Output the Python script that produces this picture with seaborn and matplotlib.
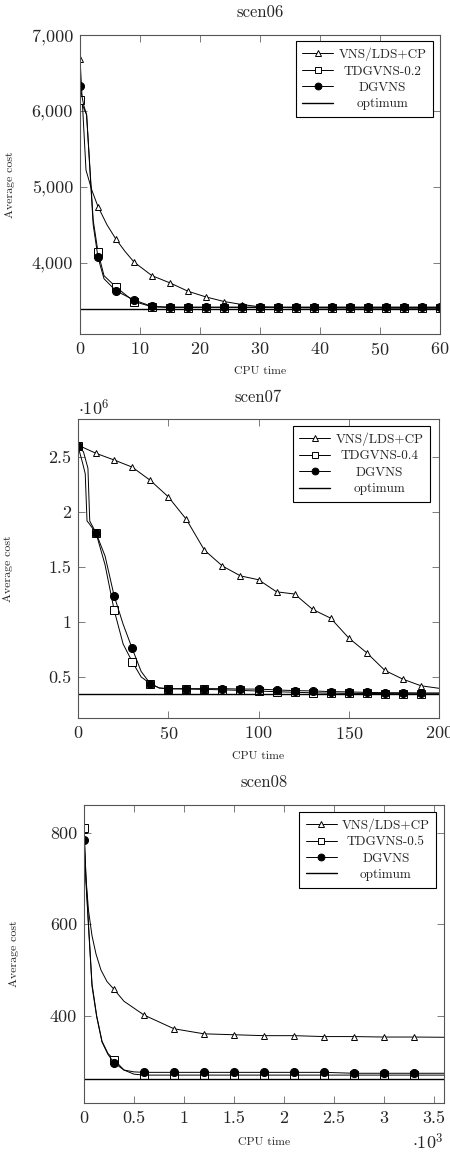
import matplotlib
matplotlib.use("Agg")
import matplotlib.pyplot as plt
import numpy as np
import seaborn as sns
from matplotlib.ticker import FuncFormatter, MultipleLocator

# ---- scen06 (CPU time in s, cost) ----
s06_vns_t = [0, 1, 2, 3, 4.5, 6, 7.5, 9, 12, 15, 18, 21, 24, 27, 30, 33, 36, 39, 42, 45, 48, 51, 54, 57, 60]
s06_vns = [6690, 5220, 4950, 4740, 4500, 4310, 4150, 4010, 3830, 3735, 3625, 3550, 3490, 3450, 3420,
           3412, 3408, 3406, 3405, 3404, 3403, 3402, 3402, 3401, 3401]
s06_td_t = [0, 0.5, 1.1, 2.2, 3, 4, 6, 9, 12, 15, 18, 21, 24, 27, 30, 33, 36, 39, 42, 45, 48, 51, 54, 57, 60]
s06_td = [6150, 6060, 5950, 4560, 4140, 3830, 3680, 3490, 3420, 3410, 3410, 3410, 3410, 3410, 3410,
          3410, 3410, 3410, 3410, 3410, 3410, 3410, 3410, 3410, 3410]
s06_dg_t = [0, 0.6, 1.1, 2.2, 3, 4, 6, 9, 12, 15, 18, 21, 24, 27, 30, 33, 36, 39, 42, 45, 48, 51, 54, 57, 60]
s06_dg = [6330, 6080, 5950, 4500, 4070, 3790, 3630, 3510, 3425, 3417, 3417, 3417, 3417, 3417, 3417,
          3417, 3417, 3417, 3417, 3417, 3417, 3417, 3417, 3417, 3417]
s06_opt = 3395

# ---- scen07 (CPU time in s, cost in 1e6) ----
s07_vns_t = [0, 10, 20, 30, 40, 50, 60, 70, 80, 90, 100, 110, 120, 130, 140, 150, 160, 170, 180, 190, 200]
s07_vns = [2.61, 2.535, 2.475, 2.41, 2.29, 2.14, 1.935, 1.655, 1.51, 1.42, 1.385, 1.275, 1.255, 1.115,
           1.035, 0.855, 0.72, 0.56, 0.48, 0.42, 0.397]
s07_td_t = [0, 2.5, 4, 5, 6, 10, 15, 20, 25, 30, 35, 40, 45, 50, 60, 70, 80, 90, 100, 110, 120, 130,
            140, 150, 160, 170, 180, 190, 200]
s07_td = [2.60, 2.45, 2.35, 1.92, 1.90, 1.81, 1.52, 1.11, 0.80, 0.64, 0.50, 0.44, 0.40, 0.392, 0.39,
          0.387, 0.383, 0.378, 0.372, 0.366, 0.361, 0.356, 0.353, 0.351, 0.35, 0.349, 0.348, 0.347, 0.347]
s07_dg_t = [0, 3, 5.5, 6.5, 10, 15, 20, 25, 30, 35, 40, 45, 50, 60, 70, 80, 90, 100, 110, 120, 130,
            140, 150, 160, 170, 180, 190, 200]
s07_dg = [2.60, 2.55, 2.40, 1.92, 1.81, 1.60, 1.24, 0.98, 0.76, 0.55, 0.44, 0.40, 0.394, 0.394, 0.394,
          0.394, 0.39, 0.39, 0.382, 0.376, 0.373, 0.367, 0.364, 0.36, 0.357, 0.357, 0.355, 0.355]
s07_opt = 0.345

# ---- scen08 (CPU time in 1e3 s, cost) ----
s08_vns_t = [0, 0.02, 0.045, 0.08, 0.12, 0.17, 0.23, 0.3, 0.4, 0.6, 0.9, 1.2, 1.5, 1.8, 2.1, 2.4, 2.7, 3.0,
             3.3, 3.6]
s08_vns = [806, 700, 630, 575, 535, 500, 475, 458, 432, 402, 372, 361, 359, 357, 357, 355, 355, 354, 354,
           353.5]
s08_td_t = [0, 0.02, 0.045, 0.08, 0.127, 0.18, 0.24, 0.3, 0.4, 0.5, 0.6, 0.9, 1.2, 1.5, 1.8, 2.1, 2.4,
            2.7, 3.0, 3.3, 3.6]
s08_td = [810, 700, 600, 470, 400, 345, 318, 305, 282, 273, 271, 271, 271, 271, 271, 271, 271, 271, 271, 271, 271]
s08_dg_t = [0, 0.02, 0.045, 0.08, 0.127, 0.18, 0.24, 0.3, 0.4, 0.5, 0.6, 0.9, 1.2, 1.5, 1.8, 2.1, 2.4,
            2.7, 3.0, 3.3, 3.6]
s08_dg = [784, 690, 595, 465, 398, 343, 316, 298, 282, 278, 277, 277, 277, 277, 277, 277, 277, 275, 275, 275, 275]
s08_opt = 262.5

sns.set_style("ticks")
plt.rcParams["font.family"] = ["cmr10", "DejaVu Serif"]
plt.rcParams["mathtext.fontset"] = "cm"
plt.rcParams["axes.unicode_minus"] = False
plt.rcParams["axes.formatter.use_mathtext"] = True

W, H = 450, 1153
fig = plt.figure(figsize=(W / 100, H / 100), dpi=100)


def axes_px(left, right, top, bottom):
    return fig.add_axes([left / W, (H - bottom) / H, (right - left) / W, (bottom - top) / H])


def mark_idx(t, step, last):
    return [i for i, v in enumerate(t) if abs(v / step - round(v / step)) < 1e-6 and v <= last + 1e-9]


def draw_panel(ax, series, opt, step, last, title, legend_anchor):
    styles = [("^", 5.0, "white"), ("s", 5.3, "white"), ("o", 5.8, "black")]
    for (t, y, label), (mk, ms, fc) in zip(series, styles):
        sns.lineplot(x=t, y=y, ax=ax, sort=False, estimator=None, color="black", lw=0.7,
                     marker=mk, markersize=ms, mfc=fc, mec="black", mew=0.7,
                     markevery=mark_idx(t, step, last), label=label, legend=False)
    ax.axhline(opt, color="black", lw=1.0, label="optimum")
    handles, labels = ax.get_legend_handles_labels()
    leg = ax.legend(handles, labels, loc="upper right", bbox_to_anchor=legend_anchor, borderaxespad=0,
                    fontsize=9.5, frameon=True, fancybox=False, framealpha=1, edgecolor="black",
                    handlelength=2.35, handletextpad=0.4, labelspacing=0.32, borderpad=0.5,
                    markerscale=0.85)
    leg.get_frame().set_linewidth(0.8)
    # centre the legend labels like pgfplots does
    fig.canvas.draw()
    renderer = fig.canvas.get_renderer()
    widths = [t.get_window_extent(renderer).width for t in leg.get_texts()]
    for t, w in zip(leg.get_texts(), widths):
        t.set_position(((max(widths) - w) / 2, 0))
    ax.text(0.5, 1.075, title, transform=ax.transAxes, ha="center", va="center", fontsize=12)
    ax.tick_params(direction="in", top=True, right=True, length=5, width=0.6, color="#666666",
                   labelsize=13, pad=5)
    for s in ax.spines.values():
        s.set_color("#555555")
        s.set_linewidth(0.8)
    ax.set_xlabel("CPU time", fontsize=8.5)
    ax.set_ylabel("Average cost", fontsize=8.5)
    ax.yaxis.set_label_coords(-0.18, 0.5)


ax1 = axes_px(80, 440, 35, 334)
draw_panel(ax1, [(s06_vns_t, s06_vns, "VNS/LDS+CP"), (s06_td_t, s06_td, "TDGVNS-0.2"),
                 (s06_dg_t, s06_dg, "DGVNS")], s06_opt, 3, 60, "scen06", (0.981, 0.98))
ax1.set_xlim(0, 60)
ax1.set_ylim(3062, 7000)
ax1.xaxis.set_major_locator(MultipleLocator(10))
ax1.yaxis.set_major_locator(MultipleLocator(1000))
ax1.yaxis.set_major_formatter(FuncFormatter(lambda v, p: f"{v:,.0f}"))
ax1.xaxis.set_label_coords(0.5, -0.11)

ax2 = axes_px(78, 439, 419.3, 718.3)
draw_panel(ax2, [(s07_vns_t, s07_vns, "VNS/LDS+CP"), (s07_td_t, s07_td, "TDGVNS-0.4"),
                 (s07_dg_t, s07_dg, "DGVNS")], s07_opt, 10, 190, "scen07", (0.976, 0.978))
ax2.set_xlim(0, 200)
ax2.set_ylim(0.124, 2.845)
ax2.xaxis.set_major_locator(MultipleLocator(50))
ax2.yaxis.set_major_locator(MultipleLocator(0.5))
ax2.yaxis.set_major_formatter(FuncFormatter(lambda v, p: f"{v:g}"))
ax2.xaxis.set_label_coords(0.5, -0.11)
ax2.text(0.0, 1.037, r"$\cdot10^6$", transform=ax2.transAxes, ha="left", va="center", fontsize=13)

ax3 = axes_px(84, 444, 805, 1103.3)
draw_panel(ax3, [(s08_vns_t, s08_vns, "VNS/LDS+CP"), (s08_td_t, s08_td, "TDGVNS-0.5"),
                 (s08_dg_t, s08_dg, "DGVNS")], s08_opt, 0.3, 3.3, "scen08", (0.979, 0.978))
ax3.set_xlim(0, 3.6)
ax3.set_ylim(209.5, 860)
ax3.xaxis.set_major_locator(MultipleLocator(0.5))
ax3.yaxis.set_major_locator(MultipleLocator(200))
ax3.xaxis.set_major_formatter(FuncFormatter(lambda v, p: f"{v:g}"))
ax3.yaxis.set_major_formatter(FuncFormatter(lambda v, p: f"{v:g}"))
ax3.xaxis.set_label_coords(0.5, -0.114)
ax3.text(1.0, -0.131, r"$\cdot10^3$", transform=ax3.transAxes, ha="right", va="center", fontsize=13)

fig.savefig("out.png", dpi=100)
